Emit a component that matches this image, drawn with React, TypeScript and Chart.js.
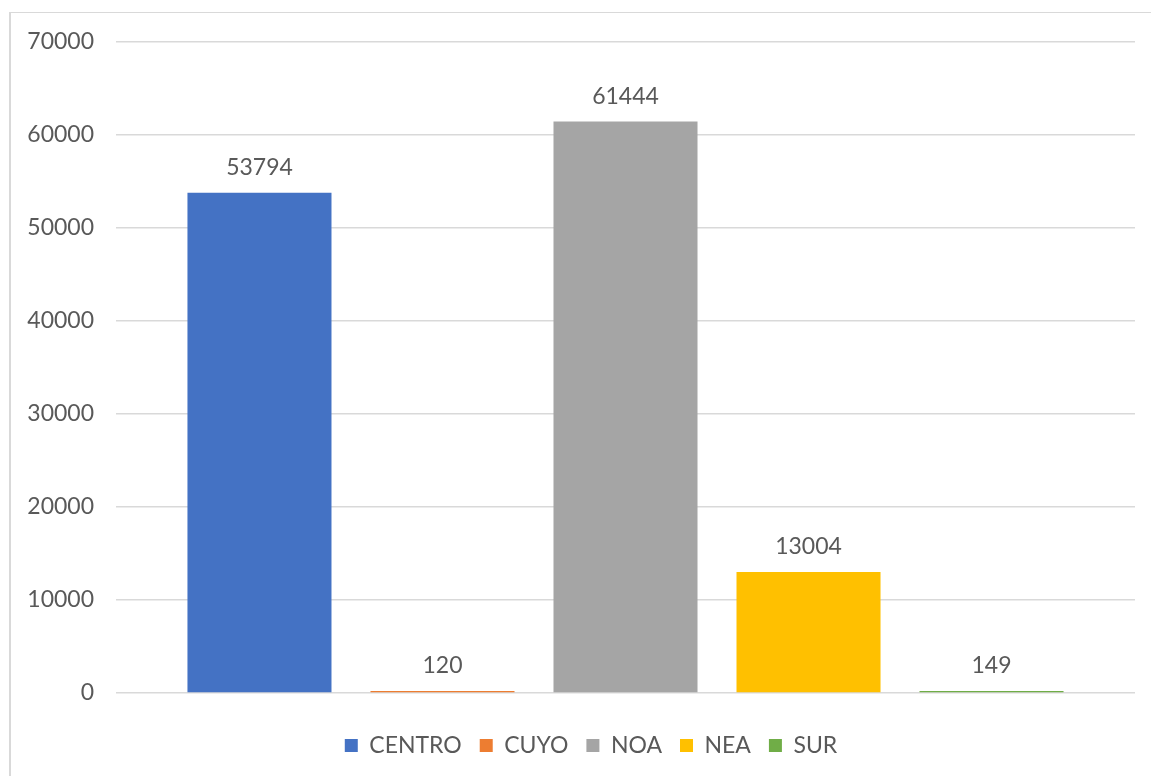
import React, { useEffect, useRef } from "react";
import { Chart, registerables } from "chart.js";

Chart.register(...registerables);

const seriesNames = ["CENTRO", "CUYO", "NOA", "NEA", "SUR"];
const seriesValues = [53794, 120, 61444, 13004, 149];
const seriesColors = ["#4472C4", "#ED7D31", "#A5A5A5", "#FFC000", "#70AD47"];
const categories = [""];

const FONT = "Lato, 'Liberation Sans', sans-serif";
const TEXT = "#595959";

const valueLabels = {
  id: "valueLabels",
  afterDatasetsDraw(chart: any) {
    const ctx = chart.ctx;
    ctx.save();
    ctx.font = `23px ${FONT}`;
    ctx.fillStyle = TEXT;
    ctx.textAlign = "center";
    ctx.textBaseline = "middle";
    chart.data.datasets.forEach((ds: any, i: number) => {
      const meta = chart.getDatasetMeta(i);
      meta.data.forEach((bar: any, j: number) => {
        ctx.fillText(String(ds.data[j]), bar.x, bar.y - 25);
      });
    });
    ctx.restore();
  },
};

export default function App() {
  const ref = useRef<HTMLCanvasElement>(null);
  useEffect(() => {
    const chart = new Chart(ref.current!, {
      type: "bar",
      data: {
        labels: categories,
        datasets: seriesNames.map((name, i) => ({
          label: name,
          data: [seriesValues[i]],
          backgroundColor: seriesColors[i],
          borderWidth: 0,
          minBarLength: 2,
          categoryPercentage: 0.898,
          barPercentage: 0.787,
        })),
      },
      options: {
        animation: false,
        responsive: false,
        maintainAspectRatio: false,
        layout: { padding: { left: 20, right: 18, top: 42, bottom: 9 } },
        plugins: {
          legend: {
            position: "bottom",
            labels: {
              color: TEXT,
              font: { family: FONT, size: 23 },
              boxWidth: 13,
              boxHeight: 13,
              padding: 18,
            },
          },
          tooltip: { enabled: false },
        },
        scales: {
          x: {
            display: true,
            grid: { display: false, drawTicks: false },
            border: { display: false },
            ticks: { display: false },
            afterFit: (scale: any) => {
              scale.height = 23;
            },
          },
          y: {
            min: 0,
            max: 70000,
            ticks: {
              stepSize: 10000,
              color: TEXT,
              font: { family: FONT, size: 23 },
              padding: 22,
              callback: (v: any) => String(v),
            },
            grid: { color: "#d9d9d9", lineWidth: 1.5, drawTicks: false },
            border: { display: false },
            afterFit: (scale: any) => {
              scale.width = 96;
            },
          },
          yRight: {
            type: "linear",
            position: "right",
            display: true,
            ticks: { display: false },
            grid: { display: false, drawTicks: false },
            border: { display: false },
            afterFit: (scale: any) => {
              scale.width = 27;
            },
          },
        },
      },
      plugins: [valueLabels],
    });
    return () => chart.destroy();
  }, []);

  return (
    <div style={{ position: "fixed", left: 0, top: 0, width: 1151, height: 776, overflow: "hidden", background: "#fff" }}>
      <div
        style={{
          position: "absolute",
          left: 9,
          top: 12,
          width: 1300,
          height: 900,
          borderLeft: "2px solid #d9d9d9",
          borderTop: "1px solid #d9d9d9",
        }}
      />
      <canvas ref={ref} width={1180} height={776} style={{ position: "absolute", left: 0, top: 0 }} />
    </div>
  );
}
